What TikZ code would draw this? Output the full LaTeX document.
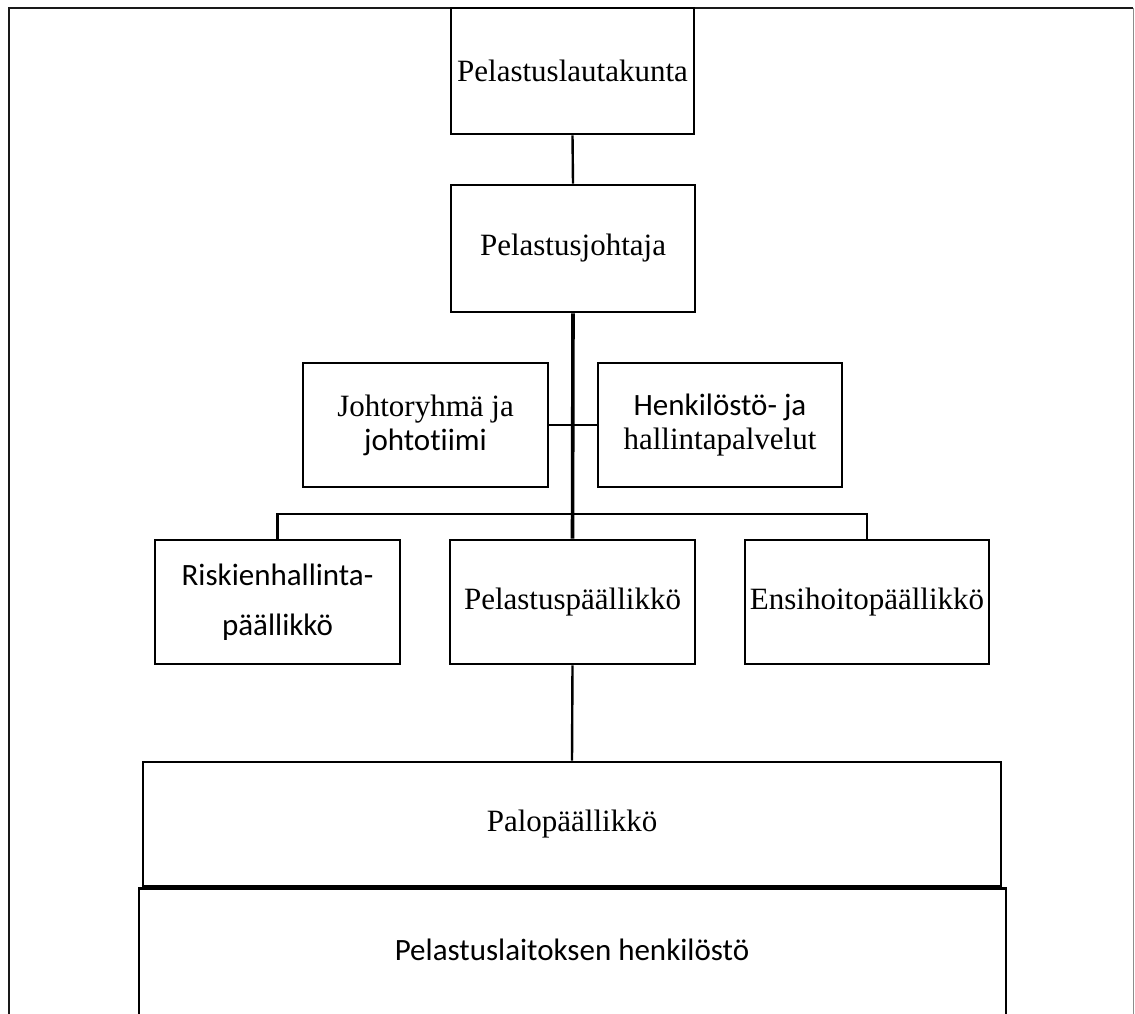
\documentclass[tikz,border=0pt]{standalone}
\usepackage{fontspec}
\setmainfont{Liberation Serif}
\newfontfamily\calibri[RawFeature=-liga]{Carlito}
\begin{document}
\begin{tikzpicture}[x=0.5pt,y=-0.5pt,
  orgbox/.style={draw=black,line width=1.3pt,fill=white,inner sep=0pt,
    align=center,font=\fontsize{15.5}{17}\selectfont},
  link/.style={draw=black,line width=1.2pt},
  spine/.style={draw=black,line width=1.8pt}]
  \useasboundingbox (0,0) rectangle (1135,1013);

  % outer frame, open at the bottom
  \draw[line width=1.3pt,black!90] (9,1020) -- (9,8) -- (1133,8);
  \draw[line width=0.8pt,black!45] (1133.5,8) -- (1133.5,1020);

  % top of the chain
  \node[orgbox,minimum width=121.5pt,minimum height=63pt] (lautakunta) at (572.5,71) {Pelastuslautakunta};
  \node[orgbox,minimum width=122pt,minimum height=63.5pt] (johtaja) at (573,248.5) {Pelastusjohtaja};

  % staff units beside the spine
  \node[orgbox,minimum width=122.5pt,minimum height=62pt] (johtoryhma) at (425.5,425)
    {Johtoryhmä ja\\{\calibri johtotiimi}};
  \node[orgbox,minimum width=122pt,minimum height=62pt] (henkilosto) at (720,425)
    {{\calibri Henkilöstö- ja}\\hallintapalvelut};

  % line managers
  \node[orgbox,minimum width=122.5pt,minimum height=62pt,font=\fontsize{15.5}{25}\selectfont] (riskien) at (277.5,602)
    {{\calibri Riskienhallinta-}\\{\calibri päällikkö}};
  \node[orgbox,minimum width=122.5pt,minimum height=62pt] (pelpaallikko) at (572.5,602) {Pelastuspäällikkö};
  \node[orgbox,minimum width=122pt,minimum height=62pt] (ensihoito) at (867,602) {Ensihoitopäällikkö};

  % wide bottom rows; the shared edge forms one heavy band
  \node[orgbox,minimum width=429pt,minimum height=62pt] (palo) at (572,824) {Palopäällikkö};
  \node[orgbox,minimum width=433.5pt,minimum height=67pt,anchor=north] (laitos) at (572.5,887) {};
  \draw[line width=2pt] (palo.south west) -- (palo.south east);
  \node[font=\calibri\fontsize{15.5}{17}\selectfont,anchor=base] (laitosteksti) at (572,960) {Pelastuslaitoksen henkilöstö};

  % connectors
  \coordinate (bus) at (573,514);
  \draw[link] (lautakunta.south) -- (johtaja.north);
  \draw[spine] (johtaja.south) -- (pelpaallikko.north);
  \draw[line width=0.9pt] (johtoryhma.east) -- (henkilosto.west);
  \draw[link] (riskien.north) |- (bus) -| (ensihoito.north);
  \draw[link] (pelpaallikko.south) -- (palo.north);
\end{tikzpicture}
\end{document}
